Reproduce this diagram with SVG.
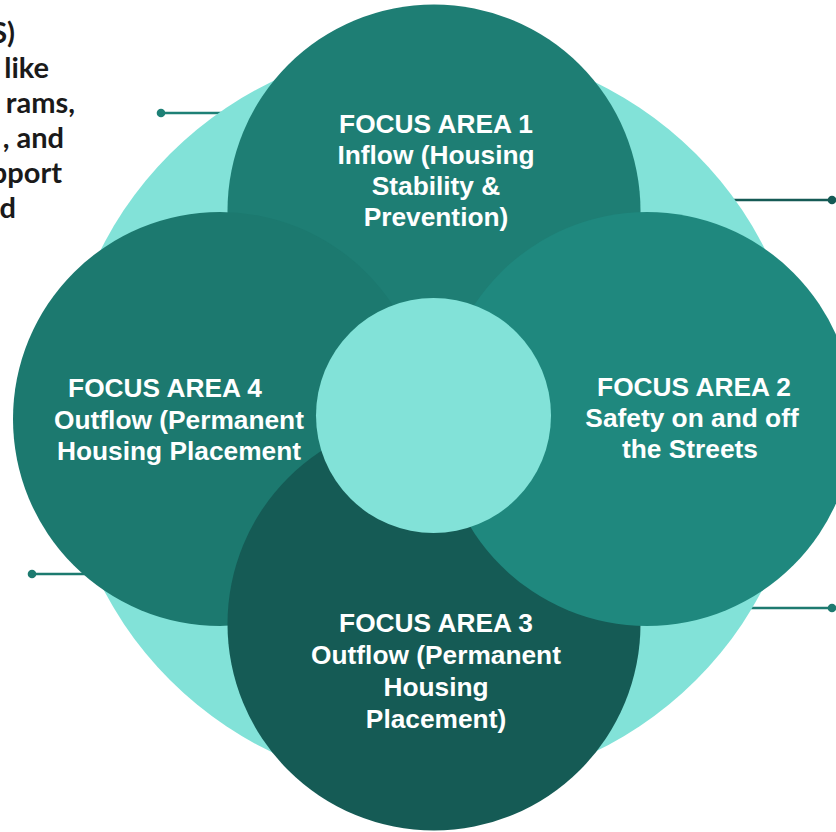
<svg xmlns="http://www.w3.org/2000/svg" width="836" height="832" viewBox="0 0 836 832">
<style>
.lbl{font-family:"Liberation Sans",Arial,sans-serif;font-weight:bold;font-size:26.3px;fill:#ffffff;text-anchor:middle}
.para{font-family:Lato,"Noto Sans",sans-serif;font-weight:bold;font-size:29px;fill:#1a1a1a;text-anchor:end}
</style>
<rect width="836" height="832" fill="#ffffff"/>
<g id="paragraph">
<text class="para" x="15" y="43">S)</text>
<text class="para" x="49" y="78">like</text>
<text class="para" x="75" y="113">rams,</text>
<text class="para" x="64" y="148">, and</text>
<text class="para" x="62" y="183">pport</text>
<text class="para" x="16" y="218">d</text>
</g>
<g id="connectors" stroke-width="2.5">
<line x1="161" y1="113" x2="260" y2="113" stroke="#1E8076"/>
<circle cx="161" cy="113" r="4.3" fill="#1E8076"/>
<line x1="700" y1="200" x2="832" y2="200" stroke="#155A55"/>
<circle cx="832" cy="200" r="4.3" fill="#155A55"/>
<line x1="32" y1="574" x2="140" y2="574" stroke="#1C7A6F"/>
<circle cx="32" cy="574" r="4.3" fill="#1C7A6F"/>
<line x1="700" y1="608" x2="832" y2="608" stroke="#1E7A70"/>
<circle cx="832" cy="608" r="4.3" fill="#1E7A70"/>
</g>
<g id="outer-ring"><circle cx="433" cy="417" r="372" fill="#82E2D8"/></g>
<g id="focus-area-1">
<circle cx="434" cy="211" r="206.5" fill="#1E7E74"/>
<text class="lbl" x="436" y="133">FOCUS AREA 1</text>
<text class="lbl" x="436" y="164">Inflow (Housing</text>
<text class="lbl" x="436" y="195">Stability &amp;</text>
<text class="lbl" x="436" y="226">Prevention)</text>
</g>
<g id="focus-area-4">
<circle cx="220" cy="419" r="207" fill="#1C796F"/>
<text class="lbl" x="165" y="397">FOCUS AREA 4</text>
<text class="lbl" x="179" y="429">Outflow (Permanent</text>
<text class="lbl" x="179" y="460">Housing Placement</text>
</g>
<g id="focus-area-3">
<circle cx="434" cy="624" r="206.5" fill="#155B55"/>
<text class="lbl" x="436" y="632">FOCUS AREA 3</text>
<text class="lbl" x="436" y="664">Outflow (Permanent</text>
<text class="lbl" x="436" y="696">Housing</text>
<text class="lbl" x="436" y="728">Placement)</text>
</g>
<g id="focus-area-2">
<circle cx="647" cy="419" r="207" fill="#1F887E"/>
<text class="lbl" x="694" y="396">FOCUS AREA 2</text>
<text class="lbl" x="692" y="427">Safety on and off</text>
<text class="lbl" x="690" y="458">the Streets</text>
</g>
<g id="center"><circle cx="433.5" cy="415.5" r="117.5" fill="#82E2D8"/></g>
</svg>
